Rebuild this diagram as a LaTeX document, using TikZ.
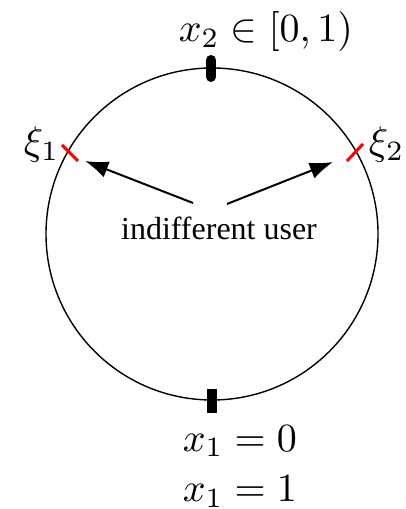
\documentclass[tikz,border=0pt]{standalone}
\usepackage{fontspec}
\newfontfamily\timesfont{Liberation Serif}
\usetikzlibrary{arrows.meta}
\begin{document}
\begin{tikzpicture}[x=0.25pt,y=-0.25pt,
  lbl/.style={inner sep=0pt,anchor=base west,font=\fontsize{10}{12}\selectfont},
  ring/.style={line width=0.35pt,black},
  mark0/.style={line width=2.5pt,black},
  redtick/.style={line width=0.75pt,red},
  ptr/.style={line width=0.5pt,-{Latex[length=5.8pt,width=4.2pt]}}]
\useasboundingbox (0,0) rectangle (405,509);
\coordinate (c) at (212,234);
\draw[ring] (c) circle[radius=41.5pt];
\draw[mark0,line cap=round] (211,60) -- (211,77);
\draw[mark0] (212,389) -- (212,413);
\draw[redtick] (62,145) -- (78,161);
\draw[redtick] (347,161) -- (363,144);
\node[lbl] (x2) at (178,42) {$x_2\in[0,1)$};
\node[lbl] (xi1) at (23,155) {$\xi_1$};
\node[lbl] (xi2) at (368,155) {$\xi_2$};
\node[anchor=base,inner sep=0pt,font=\timesfont\fontsize{8}{10}\selectfont] (user) at (219,240) {indifferent user};
\node[lbl] (x1a) at (182,451) {$x_1=0$};
\node[lbl] (x1b) at (182,501) {$x_1=1$};
\coordinate (a1s) at (193,203);
\coordinate (a1e) at (85,161);
\coordinate (a2s) at (227,204);
\coordinate (a2e) at (333,162);
\draw[ptr] (a1s) -- (a1e);
\draw[ptr] (a2s) -- (a2e);
\end{tikzpicture}
\end{document}
